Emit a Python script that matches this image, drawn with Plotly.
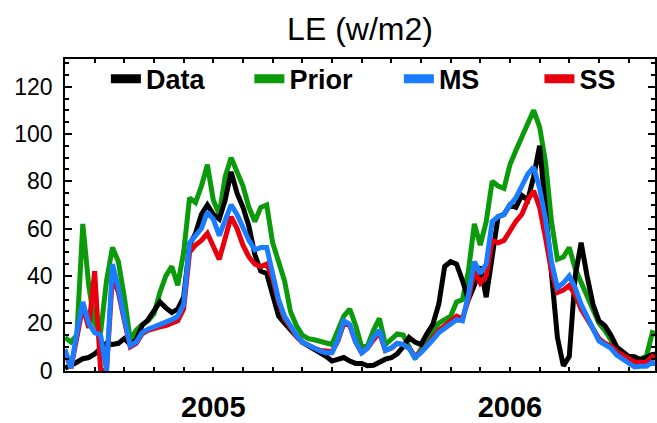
import numpy as np
import plotly.graph_objects as go

# Time axis: decimal year, sampled every 0.02 yr (about weekly)
years = np.round(2005.0 + 0.02 * np.arange(101), 2)

# Latent heat flux (W/m2)
data_le = [
    1, 2, 3.5, 5, 5.5, 7, 9.5, 11.5, 11, 11.5,
    13.5, 11, 13, 19, 21.5, 25.5, 29, 26.5, 24.5, 26,
    31, 53, 58, 66, 70, 66, 64, 72, 84, 75,
    69, 61, 49, 42, 41, 32, 23, 20, 17, 14.5,
    12, 10.5, 9, 8, 6, 4, 4.5, 5.5, 4, 3,
    3, 2, 2.2, 3.5, 4.8, 5.4, 7, 10, 14, 12,
    11, 15.5, 19.5, 28, 44, 46, 45, 38, 30, 36,
    44, 31, 48, 65, 66, 70, 69, 74, 72, 82,
    95, 66, 40, 14, 2, 6, 40, 54, 40, 28,
    21, 19, 15, 10, 8, 6, 5.8, 4.6, 5.5, 6.8, 7,
]
prior_le = [
    14, 12, 15, 62, 36, 20, 16, 38, 52, 46,
    31, 13, 17, 19.5, 21, 24, 33, 40, 44, 36,
    50, 73, 71, 78, 87, 72, 66, 82, 90, 84,
    78, 69, 63, 69, 70, 54, 46, 38, 25, 19,
    15, 13.5, 13, 12.5, 11.5, 11, 17, 23, 26, 19,
    10, 10.5, 17, 22, 11, 13.5, 15.5, 15, 9.5, 5,
    9, 12.5, 17, 20, 21.5, 23, 29, 30, 42, 62,
    53, 63, 80, 78, 77, 87, 93, 99, 104, 110,
    103, 88, 63, 47, 48, 52, 43, 37, 31, 25,
    20, 17, 13, 9, 6.6, 5.5, 4.7, 5, 6, 16, 15,
]
ms_le = [
    9, 1, 16, 29, 20, 16, 15, 0, 45, 35,
    22, 10.5, 12, 16, 17.5, 18.5, 19.5, 20, 21.5, 23,
    28, 54, 57, 60, 67, 64, 57, 63, 70, 66,
    60, 55, 51, 52, 52, 42, 30, 23, 18.5, 15,
    12, 10.7, 9.5, 8.3, 7.5, 7.5, 13, 21, 19.5, 12,
    7.5, 9.5, 14, 17, 8.5, 9.5, 11.5, 11, 9.4, 5.5,
    7.5, 10, 13, 16, 17.8, 19.5, 21.5, 21, 32, 46,
    41, 45, 63, 65, 66, 70, 73, 78, 83, 86,
    77, 64, 46, 35, 37, 40, 35, 28, 22.5, 17,
    12.5, 11, 9.5, 6.5, 5, 3.5, 1.5, 1.8, 1.8, 3.5, 2.5,
]
ss_le = [
    8, 1, 14, 27, 18, 42, 0, 0, 40, 33,
    21, 10, 11.5, 15.5, 17, 18, 18.5, 19, 20, 21,
    26, 50, 53, 55, 58, 52, 47, 56, 65, 60,
    53, 48, 45, 44, 45, 39, 29, 22, 18, 14.5,
    12, 10.5, 9.5, 8.5, 8, 8, 12.5, 20, 19, 12,
    7.5, 9.5, 13, 16, 8.5, 9.5, 11.5, 11, 9.5, 6,
    8, 10.5, 14, 17, 19, 21, 23, 22, 30, 42,
    37, 40, 55, 54, 55, 59, 63, 66, 72, 76,
    69, 56, 42, 33, 34, 36, 32, 26, 21.5, 17,
    13.5, 11.5, 10.5, 8, 6.5, 5, 3.5, 3.5, 3.5, 6, 5,
]

year_tick_vals = [2005.5, 2006.5]
year_tick_text = ["2005", "2006"]

FONT = "Liberation Sans, Arial, Helvetica, sans-serif"

# (name, values, colour); listed in drawing order
series = [
    ("Prior", prior_le, "#0a9a0a"),
    ("Data", data_le, "#000000"),
    ("SS", ss_le, "#e8000e"),
    ("MS", ms_le, "#1a7cff"),
]
colors = {name: color for name, _, color in series}

fig = go.Figure()
for name, vals, color in series:
    fig.add_trace(go.Scatter(
        x=years, y=vals, name=name, mode="lines",
        line=dict(color=color, width=5),
        showlegend=False,
    ))

# Key entries: one legend box per series, spread along the top of the frame,
# drawn with a heavier stroke than the curves themselves
legend_order = ["Data", "Prior", "MS", "SS"]
legend_x = [0.0693, 0.3125, 0.5659, 0.8041]
legend_ids = ["legend", "legend2", "legend3", "legend4"]
for name, lid in zip(legend_order, legend_ids):
    fig.add_trace(go.Scatter(
        x=[None], y=[None], name=name, mode="lines",
        line=dict(color=colors[name], width=9),
        legend=lid, showlegend=True, hoverinfo="skip",
    ))

legend_style = dict(
    orientation="h",
    xanchor="left",
    y=0.935, yanchor="middle",
    font=dict(size=27, family=FONT, color="black", weight="bold"),
    bgcolor="rgba(0,0,0,0)",
    borderwidth=0,
)
legend_layout = {
    lid: dict(legend_style, x=lx) for lid, lx in zip(legend_ids, legend_x)
}

fig.update_layout(
    width=657, height=423,
    autosize=False,
    margin=dict(l=65, r=0, t=59, b=43),
    paper_bgcolor="white",
    plot_bgcolor="white",
    font=dict(family=FONT, color="black"),
    title=dict(
        text="LE (w/m2)",
        x=0.5, xref="paper", xanchor="center",
        y=1 - 29 / 423, yref="container", yanchor="middle",
        font=dict(size=32, family=FONT, color="black"),
    ),
    showlegend=True,
    **legend_layout,
)

fig.update_xaxes(
    range=[2005.0, 2006.989],
    tickmode="array",
    tickvals=year_tick_vals,
    ticktext=year_tick_text,
    ticks="inside", ticklen=4, tickwidth=1.5, tickcolor="black",
    minor=dict(tickmode="linear", tick0=2005.0, dtick=0.1,
               ticks="inside", ticklen=4, tickwidth=1.5, tickcolor="black",
               showgrid=False),
    showline=True, linecolor="black", linewidth=1.5, mirror="allticks",
    showgrid=False, zeroline=False,
    tickfont=dict(size=29, family=FONT, color="black", weight="bold"),
    ticklabelstandoff=9,
)

fig.update_yaxes(
    range=[-0.2, 131.7],
    tickmode="linear", tick0=0, dtick=20,
    ticks="inside", ticklen=7, tickwidth=1.5, tickcolor="black",
    minor=dict(tickmode="linear", tick0=0, dtick=5,
               ticks="inside", ticklen=4, tickwidth=1.5, tickcolor="black",
               showgrid=False),
    showline=True, linecolor="black", linewidth=1.5, mirror="allticks",
    showgrid=False, zeroline=False,
    tickfont=dict(size=23, family=FONT, color="black"),
    ticklabelstandoff=6,
)

fig.write_html("out.html")
